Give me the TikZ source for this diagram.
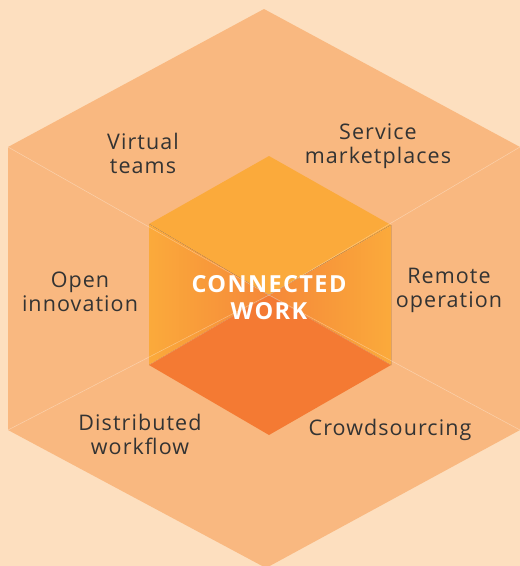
\documentclass[tikz,border=0pt]{standalone}
\usepackage{fontspec}
\setmainfont{Open Sans}
\newfontfamily\lblfont[LetterSpace=5]{Open Sans}
\newfontfamily\ctrfont[LetterSpace=6]{Open Sans}
\definecolor{bgc}{HTML}{FDDFBF}
\definecolor{hexc}{HTML}{F9B880}
\definecolor{topc}{HTML}{FBAA3B}
\definecolor{botc}{HTML}{F47A33}
\definecolor{sidein}{HTML}{F58839}
\definecolor{txtc}{HTML}{333333}
\tikzset{
  lbl/.style={text=txtc, font=\lblfont\fontsize{21.5}{24}\selectfont, align=center, inner sep=0pt},
  ctr/.style={text=white, font=\ctrfont\fontsize{23.5}{27}\selectfont\bfseries, align=center, inner sep=0pt},
  faint/.style={draw=white, draw opacity=0.35, line width=0.5pt}
}
\begin{document}
\begin{tikzpicture}[x=1pt,y=-1pt]
\fill[bgc] (0,0) rectangle (520,566);
\useasboundingbox (0,0) rectangle (520,566);
% outer hexagon
\coordinate (OT) at (264,9);
\coordinate (OUR) at (520,147);
\coordinate (OLR) at (520,430);
\coordinate (OB) at (266,568);
\coordinate (OLL) at (8,430);
\coordinate (OUL) at (8,147);
\fill[hexc] (OT) -- (OUR) -- (OLR) -- (OB) -- (OLL) -- (OUL) -- cycle;
% inner cube
\coordinate (IT) at (269,156);
\coordinate (IUR) at (391,225);
\coordinate (ILR) at (391,365);
\coordinate (IB) at (269,435);
\coordinate (ILL) at (149,365);
\coordinate (IUL) at (149,224);
\coordinate (C) at (269,295);
\fill[topc] (IT) -- (IUR) -- (C) -- (IUL) -- cycle;
\fill[left color=topc, right color=sidein] (IUL) -- (C) -- (ILL) -- cycle;
\fill[left color=sidein, right color=topc] (IUR) -- (C) -- (ILR) -- cycle;
\fill[botc] (ILL) -- (C) -- (ILR) -- (IB) -- cycle;
% faint lines
\draw[faint] (OUL) -- (C) -- (OLR);
\draw[faint] (OLL) -- (C) -- (OUR);
\draw[faint, draw opacity=0.2] (IUL) -- (C) -- (IUR);
\draw[faint, draw opacity=0.2] (ILL) -- (C) -- (ILR);
% labels
\node[lbl] (vt) at (143,153) {Virtual\\teams};
\node[lbl] (sm) at (378,146) {Service\\marketplaces};
\node[lbl] (oi) at (80,292) {Open\\innovation};
\node[lbl] (ro) at (449,290) {Remote\\operation};
\node[lbl] (dw) at (140,434) {Distributed\\workflow};
\node[lbl] (cs) at (390,430) {Crowdsourcing};
\node[ctr] (cw) at (269,298) {CONNECTED\\WORK};
\end{tikzpicture}
\end{document}
